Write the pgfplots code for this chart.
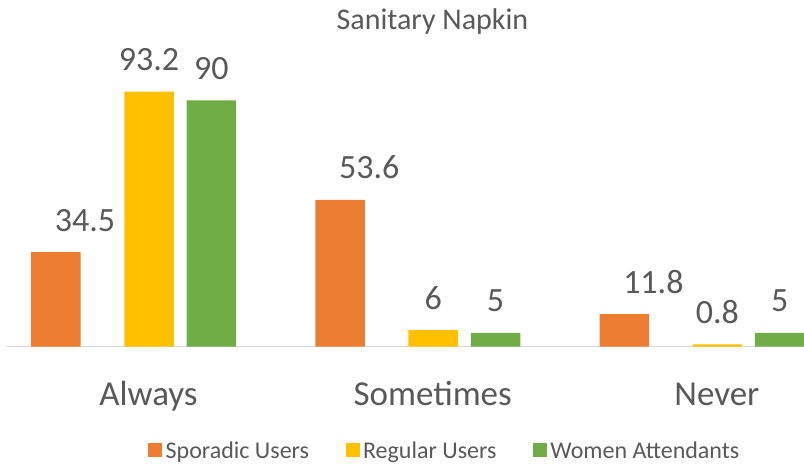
\documentclass[border=0pt]{standalone}
\usepackage{fontspec}
\setmainfont{Carlito}
\usepackage{pgfplots}
\pgfplotsset{compat=1.18}
\definecolor{sporadic}{HTML}{ED7D31}
\definecolor{regular}{HTML}{FFC000}
\definecolor{women}{HTML}{70AD47}
\definecolor{txt}{HTML}{595959}
\definecolor{axln}{HTML}{D9D9D9}

\begin{document}
\begin{tikzpicture}
\useasboundingbox (0,0) rectangle (804bp,464bp);
\begin{axis}[
  at={(6.4bp,117.5bp)}, anchor=south west,
  scale only axis, width=797.6bp, height=273.6bp,
  xmin=-0.5, xmax=2.3065, ymin=0, ymax=100,
  clip=false,
  axis x line*=bottom, axis y line=none,
  x axis line style={-, draw=axln, line width=1.5bp},
  xtick={0,1,2}, xticklabels={Always,Sometimes,Never},
  major tick length=0pt,
  xticklabel style={font=\fontsize{35bp}{40bp}\selectfont, text=txt, anchor=base, yshift=-59bp},
  /pgf/number format/assume math mode=true,
  title={Sanitary Napkin},
  title style={at={(0.5342,1.136)}, anchor=base, font=\fontsize{30bp}{36bp}\selectfont, text=txt},
  bar width=49.5bp, bar shift=0bp,
  nodes near coords,
  every node near coord/.append style={anchor=base, yshift=21bp,
    font=\fontsize{34bp}{40bp}\selectfont, text=txt},
  legend columns=3,
  legend style={at={(0.5505,-0.380)}, anchor=center, draw=none, fill=none,
    font=\fontsize{24bp}{28bp}\selectfont, text=txt,
    nodes={inner xsep=3.5bp},
    /tikz/every odd column/.append style={column sep=0bp},
    /tikz/every even column/.append style={column sep=33bp}},
  legend image code/.code={\fill (0bp,-7bp) rectangle (14bp,7bp);},
]
% x positions: category index plus the bar's offset within the group
\addplot[ybar, fill=sporadic, draw=none,
  every node near coord/.append style={xshift=29bp}]
  coordinates {(-0.3255,34.5) (0.6745,53.6) (1.6745,11.8)};
\addlegendentry{Sporadic Users}
\addplot[ybar, fill=regular, draw=none]
  coordinates {(0.0018,93.2) (1.0018,6) (2.0018,0.8)};
\addlegendentry{Regular Users}
\addplot[ybar, fill=women, draw=none]
  coordinates {(0.221,90) (1.221,5) (2.221,5)};
\addlegendentry{Women Attendants}
\end{axis}
\end{tikzpicture}
\end{document}
